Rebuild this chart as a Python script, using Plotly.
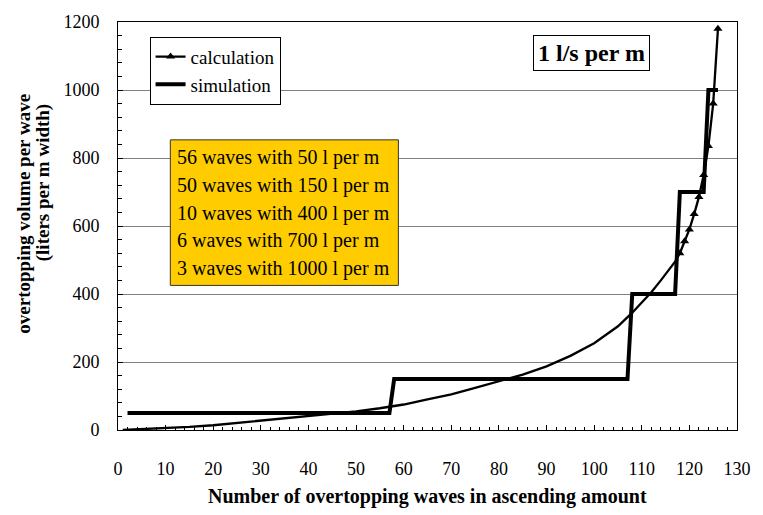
import plotly.graph_objects as go

# ---- data ----
calc_x = [1, 5, 10, 15, 20, 25, 30, 35, 40, 45, 50, 55, 60, 65, 70, 75, 80, 85, 90,
          95, 100, 105, 108, 110, 112, 114, 116, 117,
          118, 119, 120, 121, 122, 123, 124, 125, 126]
calc_y = [0, 2, 5, 9, 14, 21, 28, 34, 40, 47, 55, 64, 75, 90, 105, 124, 143, 163, 187,
          218, 255, 305, 345, 375, 405, 440, 475, 495,
          520, 555, 590, 635, 685, 750, 835, 960, 1180]
marker_from_x = 118

wave_counts = [56, 50, 10, 6, 3]
wave_volumes = [50, 150, 400, 700, 1000]
sim_start_x = 2

x_ticks = list(range(0, 131, 10))
y_ticks = list(range(0, 1201, 200))

box_lines = ["56 waves with 50 l per m",
             "50 waves with 150 l per m",
             "10 waves with 400 l per m",
             "6 waves with 700 l per m",
             "3 waves with 1000 l per m"]

# build simulation series from counts/volumes
sim_y = []
for c, v in zip(wave_counts, wave_volumes):
    sim_y += [v] * c
sim_x = list(range(sim_start_x, sim_start_x + len(sim_y)))

FONT = "Liberation Serif, Times New Roman, serif"

fig = go.Figure()

idx = calc_x.index(marker_from_x)
fig.add_trace(go.Scatter(x=calc_x[:idx + 1], y=calc_y[:idx + 1], mode="lines",
                         line=dict(color="black", width=2.3), showlegend=False,
                         hoverinfo="skip"))
fig.add_trace(go.Scatter(x=calc_x[idx:], y=calc_y[idx:], mode="lines+markers",
                         name="calculation",
                         line=dict(color="black", width=2.3),
                         marker=dict(symbol="triangle-up", size=8, color="black")))
fig.add_trace(go.Scatter(x=sim_x, y=sim_y, mode="lines", name="simulation",
                         line=dict(color="black", width=4)))

fig.update_layout(
    width=763, height=515,
    margin=dict(l=118, r=18, t=18, b=85),
    paper_bgcolor="white", plot_bgcolor="white",
    font=dict(family=FONT, size=18, color="black"),
    legend=dict(x=0.051, y=0.964, xanchor="left", yanchor="top",
                bgcolor="white", bordercolor="black", borderwidth=1,
                font=dict(family=FONT, size=19, color="black"),
                tracegroupgap=0),
    xaxis=dict(range=[0, 130], tickvals=x_ticks, ticks="inside", ticklen=5,
               tickcolor="black", showline=True, linecolor="black", linewidth=1,
               mirror=True, showgrid=False, zeroline=False,
               ticklabelstandoff=22,
               minor=dict(dtick=2, ticks="inside", ticklen=3, tickcolor="black"),
               tickfont=dict(family=FONT, size=18)),
    yaxis=dict(range=[0, 1200], tickvals=y_ticks, ticks="inside", ticklen=5,
               tickcolor="black", showline=True, linecolor="black", linewidth=1,
               mirror=True, showgrid=True, gridcolor="#808080", gridwidth=1,
               zeroline=False, ticklabelstandoff=14,
               minor=dict(dtick=40, ticks="inside", ticklen=4, tickcolor="black",
                          showgrid=False),
               tickfont=dict(family=FONT, size=18)),
)

# x axis title
fig.add_annotation(xref="paper", yref="paper", x=0.5, y=-0.163, yanchor="middle",
                   xanchor="center",
                   text="<b>Number of overtopping waves in ascending amount</b>",
                   showarrow=False, font=dict(family=FONT, size=20))
# y axis titles (two lines)
fig.add_annotation(xref="paper", yref="paper", x=-0.152, y=0.53,
                   xanchor="center", yanchor="middle", textangle=-90,
                   text="<b>overtopping volume per wave</b>",
                   showarrow=False, font=dict(family=FONT, size=19))
fig.add_annotation(xref="paper", yref="paper", x=-0.122, y=0.606,
                   xanchor="center", yanchor="middle", textangle=-90,
                   text="<b>(liters per m width)</b>",
                   showarrow=False, font=dict(family=FONT, size=19))

# "1 l/s per m" label box
fig.add_annotation(xref="paper", yref="paper", x=(598 - 118) / 627, y=(430 - 49) / 412,
                   xanchor="center", yanchor="middle",
                   text="<b>1 l/s per m</b>", showarrow=False,
                   font=dict(family=FONT, size=24), bgcolor="white",
                   bordercolor="black", borderwidth=1, borderpad=4)

# yellow info box
fig.add_shape(type="rect", xref="paper", yref="paper",
              x0=(171 - 118) / 627, x1=(402 - 118) / 627,
              y0=(430 - 284) / 412, y1=(430 - 137) / 412,
              fillcolor="#FFCC00", line=dict(color="#333333", width=1), layer="above")
for i, t in enumerate(box_lines):
    fig.add_annotation(xref="paper", yref="paper", x=(176 - 118) / 627,
                       y=(430 - (155 + 28 * i)) / 412, xanchor="left", yanchor="middle",
                       text=t, showarrow=False, font=dict(family=FONT, size=20))

fig.write_html("out.html")
